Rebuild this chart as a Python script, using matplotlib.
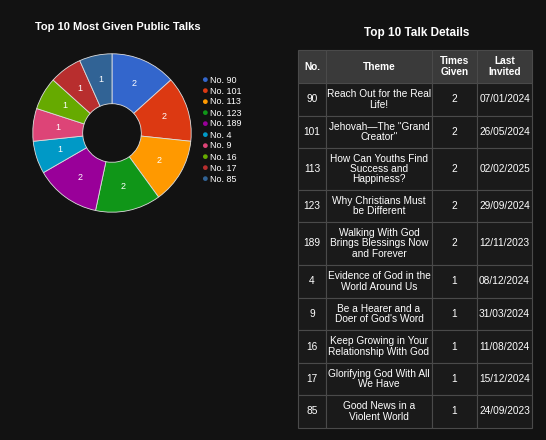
import matplotlib
matplotlib.use("Agg")
import matplotlib.pyplot as plt
from matplotlib.patches import Rectangle
import numpy as np

labels = ["No. 90","No. 101","No. 113","No. 123","No. 189","No. 4","No. 9","No. 16","No. 17","No. 85"]
values = [2,2,2,2,2,1,1,1,1,1]
colors = ["#3366cc","#dc3912","#ff9900","#109618","#990099","#0099c6","#dd4477","#66aa00","#b82e2e","#316395"]
nums = ["90","101","113","123","189","4","9","16","17","85"]
themes = ["Reach Out for the Real\nLife!","Jehovah\u2014The \"Grand\nCreator\"","How Can Youths Find\nSuccess and\nHappiness?",
          "Why Christians Must\nbe Different","Walking With God\nBrings Blessings Now\nand Forever","Evidence of God in the\nWorld Around Us",
          "Be a Hearer and a\nDoer of God's Word","Keep Growing in Your\nRelationship With God","Glorifying God With All\nWe Have","Good News in a\nViolent World"]
dates = ["07/01/2024","26/05/2024","02/02/2025","29/09/2024","12/11/2023","08/12/2024","31/03/2024","11/08/2024","15/12/2024","24/09/2023"]
headers = ["No.","Theme","Times\nGiven","Last\nInvited"]

W, H = 546, 440
BG = "#121212"
fig = plt.figure(figsize=(W/100, H/100), dpi=100, facecolor=BG)
plt.rcParams['font.family'] = ['Liberation Sans', 'DejaVu Sans']

fig.text(35/W, 1-27/H, "Top 10 Most Given Public Talks", color="white", fontsize=8, fontweight="bold", va="center")
cx, cy, r = 112, 133, 80
ax = fig.add_axes([(cx-r)/W, 1-(cy+r)/H, 2*r/W, 2*r/H])
ax.set_facecolor(BG)
wedges, texts = ax.pie(values, colors=colors, startangle=90, counterclock=False,
                       wedgeprops=dict(width=0.63, edgecolor="#dddddd", linewidth=0.6))
for w, v in zip(wedges, values):
    a = np.deg2rad((w.theta1 + w.theta2)/2)
    ax.text(0.69*np.cos(a), 0.69*np.sin(a), str(v), color="white", fontsize=6.5, ha="center", va="center")
ax.set_xlim(-1.01, 1.01); ax.set_ylim(-1.01, 1.01)
ax.set_aspect("equal")

for i, (l, c) in enumerate(zip(labels, colors)):
    y = 80 + i*11
    fig.text(204/W, 1-y/H, "\u25cf", color=c, fontsize=8, va="center", ha="center")
    fig.text(210/W, 1-y/H, l, color="white", fontsize=6.5, va="center")

fig.text(417/W, 1-33/H, "Top 10 Talk Details", color="white", fontsize=8.5, fontweight="bold", ha="center", va="center")
cols = [298, 326, 432, 477, 532]
rows = [50, 83, 116, 148, 190, 222, 265, 298, 330, 363, 395, 428]
tax = fig.add_axes([0, 0, 1, 1]); tax.set_xlim(0, W); tax.set_ylim(H, 0); tax.axis("off")
data = [headers] + [[n, t, str(v), d] for n, t, v, d in zip(nums, themes, values, dates)]
for ri in range(len(rows)-1):
    y0, y1 = rows[ri], rows[ri+1]
    for ci in range(4):
        x0, x1 = cols[ci], cols[ci+1]
        tax.add_patch(Rectangle((x0, y0), x1-x0, y1-y0, facecolor="#3a3a3a" if ri == 0 else "#1a1a1a",
                                edgecolor="#4a4a4a", linewidth=0.8))
        tax.text((x0+x1)/2, (y0+y1)/2, data[ri][ci], color="white", fontsize=7.3, ha="center", va="center",
                 fontweight="bold" if ri == 0 else "normal", linespacing=1.05)
fig.savefig("out.png", dpi=100, facecolor=BG)
